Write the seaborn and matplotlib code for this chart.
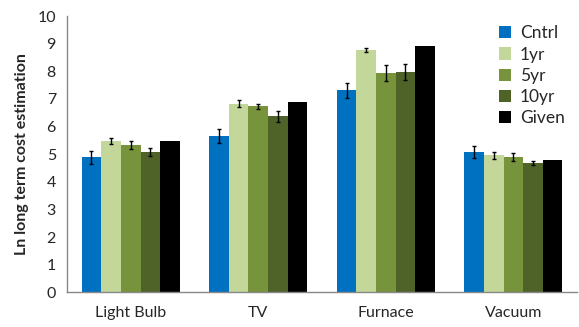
import matplotlib
matplotlib.use("Agg")
import matplotlib.pyplot as plt
import seaborn as sns
import pandas as pd
import numpy as np

categories = ["Light Bulb", "TV", "Furnace", "Vacuum"]
series = ["Cntrl", "1yr", "5yr", "10yr", "Given"]
values = {
    "Cntrl": [4.89, 5.65, 7.31, 5.07],
    "1yr":   [5.49, 6.82, 8.77, 4.96],
    "5yr":   [5.32, 6.73, 7.94, 4.90],
    "10yr":  [5.09, 6.38, 7.97, 4.68],
    "Given": [5.46, 6.90, 8.91, 4.78],
}
errors = {
    "Cntrl": [0.23, 0.25, 0.26, 0.21],
    "1yr":   [0.11, 0.13, 0.08, 0.12],
    "5yr":   [0.14, 0.08, 0.28, 0.13],
    "10yr":  [0.14, 0.20, 0.29, 0.08],
    "Given": [0.0, 0.0, 0.0, 0.0],
}
colors = ["#0070C0", "#C4D79B", "#77933C", "#4F6228", "#000000"]
yticks = list(range(0, 11))

rows = []
for s in series:
    for c, v in zip(categories, values[s]):
        rows.append({"cat": c, "series": s, "val": v})
df = pd.DataFrame(rows)

sns.set_style("white")
plt.rcParams["font.family"] = ["Lato", "DejaVu Sans"]

fig = plt.figure(figsize=(5.79, 3.27), dpi=100)
ax = fig.add_axes([0.1157, 0.106, 0.881, 0.845])

sns.barplot(data=df, x="cat", y="val", hue="series", hue_order=series,
            order=categories, palette=colors, errorbar=None, width=0.77,
            saturation=1, ax=ax, linewidth=0)

for s, cont in zip(series, ax.containers):
    xs = [p.get_x() + p.get_width() / 2 for p in cont.patches]
    ys = [p.get_height() for p in cont.patches]
    errs = errors[s]
    if max(errs) > 0:
        ax.errorbar(xs, ys, yerr=errs, fmt="none", ecolor="black",
                    elinewidth=1, capsize=1.5, capthick=1)

ax.set_ylim(0, 10)
ax.set_yticks(yticks)
ax.set_yticklabels([str(t) for t in yticks], fontsize=11.5)
ax.set_xlim(-0.5, len(categories) - 0.5)
ax.set_xticks(range(len(categories)))
ax.set_xticklabels(categories, fontsize=11.5)
ax.set_xticks(np.arange(-0.5, len(categories), 1.0), minor=True)
ax.tick_params(axis="x", which="major", length=0, pad=10)
ax.tick_params(axis="x", which="minor", length=5, color="#888888", direction="out")
ax.tick_params(axis="y", length=4, color="#888888", direction="out", pad=4)
ax.set_xlabel("")
ax.set_ylabel("Ln long term cost estimation", fontsize=11.5, fontweight="bold", labelpad=6)

for sp in ["top", "right"]:
    ax.spines[sp].set_visible(False)
for sp in ["left", "bottom"]:
    ax.spines[sp].set_color("#888888")
    ax.spines[sp].set_linewidth(1)

leg = ax.legend(loc="upper right", bbox_to_anchor=(1.0, 1.01), frameon=False,
                fontsize=12.5, handlelength=0.7, handleheight=0.7,
                handletextpad=0.5, labelspacing=0.3, borderaxespad=0.3)

fig.savefig("out.png", dpi=100)
